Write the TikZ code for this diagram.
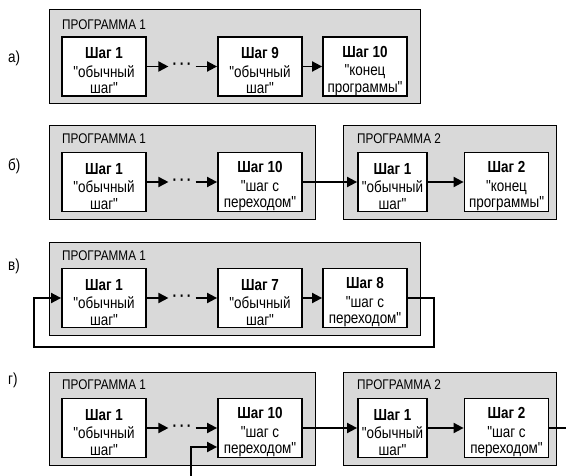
\documentclass[tikz,border=0pt]{standalone}
\usepackage{fontspec}
\setmainfont{Liberation Sans}[FakeStretch=0.84, Ligatures=TeXOff]
\usetikzlibrary{arrows.meta}
\definecolor{progfill}{RGB}{217,217,217}
\newcommand{\steplabel}[3]{\rule{0pt}{20bp}\textbf{#1}\\[2bp]"#2\\#3"}

\begin{document}
\begin{tikzpicture}[x=1bp,y=1bp]
      \tikzstyle{every node}+=[inner sep=0pt]
      \tikzstyle{prog}=[draw=black, line width=0.8bp, fill=progfill]
      \tikzstyle{stepbox}=[draw, line width=1.8bp, fill=white, minimum width=84bp, minimum height=59bp, align=center, font=\fontsize{16bp}{16.5bp}\selectfont]
      \tikzstyle{narrowbox}=[stepbox, minimum width=69bp]
      \tikzstyle{arr}=[line width=1.8bp, -{Triangle[length=10bp,width=10bp]}]
      \tikzstyle{ptitle}=[anchor=west, font=\fontsize{14bp}{14bp}\selectfont]
      \tikzstyle{caseno}=[anchor=west, font=\fontsize{16bp}{16bp}\selectfont]
      \tikzstyle{dots}=[font=\fontsize{16bp}{16bp}\selectfont\bfseries, inner sep=4bp]
      \useasboundingbox (0,0) rectangle (566,-476);
      % а)
      \node[caseno] (la) at (8,-58) {а)};
      \draw [prog] (49,-9) rectangle (420,-103);
      \node[ptitle] (ta) at (62,-25) {ПРОГРАММА 1};
      \node[stepbox] (a1) at (104,-66.5) {\steplabel{Шаг 1}{обычный}{шаг}};
      \node[dots] (da) at (182,-66.5) {·\,·\,·};
      \node[stepbox] (a9) at (260,-66.5) {\steplabel{Шаг 9}{обычный}{шаг}};
      \node[stepbox] (a10) at (365,-66.5) {\steplabel{Шаг 10}{конец}{программы}};
      \draw [arr] (a1) -- (da);
      \draw [arr] (da) -- (a9);
      \draw [arr] (a9) -- (a10);
      % б)
      \node[caseno] (lb) at (8,-166) {б)};
      \draw [prog] (49,-125) rectangle (315,-219);
      \draw [prog] (343,-125) rectangle (556,-219);
      \node[ptitle] (tb1) at (62,-139) {ПРОГРАММА 1};
      \node[ptitle] (tb2) at (357,-139) {ПРОГРАММА 2};
      \node[stepbox] (b1) at (104,-182) {\steplabel{Шаг 1}{обычный}{шаг}};
      \node[dots] (db) at (182,-182) {·\,·\,·};
      \node[stepbox] (b10) at (260,-182) {\steplabel{Шаг 10}{шаг с}{переходом}};
      \node[narrowbox] (e1) at (392.5,-182) {\steplabel{Шаг 1}{обычный}{шаг}};
      \node[stepbox] (e2) at (506.5,-182) {\steplabel{Шаг 2}{конец}{программы}};
      \draw [arr] (b1) -- (db);
      \draw [arr] (db) -- (b10);
      \draw [arr] (b10) -- (e1);
      \draw [arr] (e1) -- (e2);
      % в)
      \node[caseno] (lc) at (8,-266) {в)};
      \draw [prog] (49,-242) rectangle (420,-335);
      \node[ptitle] (tc) at (62,-256) {ПРОГРАММА 1};
      \node[stepbox] (c1) at (104,-298) {\steplabel{Шаг 1}{обычный}{шаг}};
      \node[dots] (dc) at (182,-298) {·\,·\,·};
      \node[stepbox] (c7) at (260,-298) {\steplabel{Шаг 7}{обычный}{шаг}};
      \node[stepbox] (c8) at (365,-298) {\steplabel{Шаг 8}{шаг с}{переходом}};
      \coordinate (cR) at (434,-347);
      \coordinate (cL) at (34,-347);
      \draw [arr] (c1) -- (dc);
      \draw [arr] (dc) -- (c7);
      \draw [arr] (c7) -- (c8);
      \draw [arr] (c8.east) -| (cR) -- (cL) |- (c1.west);
      % г)
      \node[caseno] (ld) at (8,-380) {г)};
      \draw [prog] (49,-372) rectangle (315,-465);
      \draw [prog] (343,-372) rectangle (556,-465);
      \node[ptitle] (td1) at (62,-385) {ПРОГРАММА 1};
      \node[ptitle] (td2) at (357,-385) {ПРОГРАММА 2};
      \node[stepbox] (d1) at (104,-428) {\steplabel{Шаг 1}{обычный}{шаг}};
      \node[dots] (dd) at (182,-428) {·\,·\,·};
      \node[stepbox] (d10) at (260,-428) {\steplabel{Шаг 10}{шаг с}{переходом}};
      \node[narrowbox] (f1) at (392.5,-428) {\steplabel{Шаг 1}{обычный}{шаг}};
      \node[stepbox] (f2) at (506.5,-428) {\steplabel{Шаг 2}{шаг с}{переходом}};
      \coordinate (dOut) at (566,-428);
      \coordinate (dIn) at (191,-476);
      \draw [arr] (d1) -- (dd);
      \draw [arr] (dd) -- (d10);
      \draw [arr] (d10) -- (f1);
      \draw [arr] (f1) -- (f2);
      \draw [line width=1.8bp] (f2) -- (dOut);
      \draw [arr] (dIn) |- ([yshift=-19bp]d10.west);
\end{tikzpicture}
\end{document}
